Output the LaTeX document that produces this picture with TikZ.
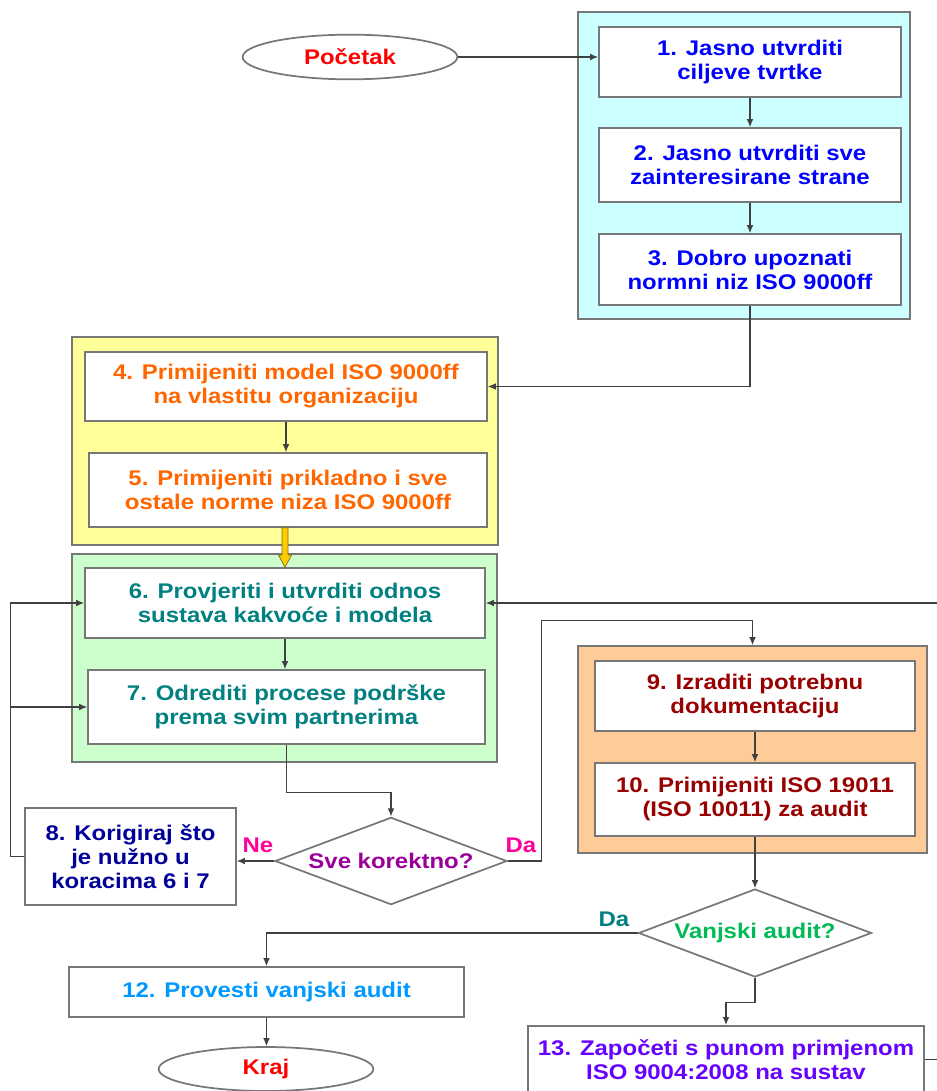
\documentclass[tikz,border=0pt]{standalone}
\usepackage{fontspec}
\setmainfont{Liberation Sans}[FakeStretch=1.13]
\usepackage{tikz}
\usetikzlibrary{arrows.meta,positioning,shapes.geometric,calc}
\definecolor{framegray}{HTML}{777777}
\definecolor{linegray}{HTML}{404040}
\definecolor{cyanfill}{HTML}{CCFFFF}
\definecolor{yellowfill}{HTML}{FFFF99}
\definecolor{greenfill}{HTML}{CCFFCC}
\definecolor{orangefill}{HTML}{FFCC99}
\definecolor{arrowyellow}{HTML}{FFCC00}
\definecolor{arrowedge}{HTML}{7A6A20}
\definecolor{startred}{HTML}{FF0000}
\definecolor{stepblue}{HTML}{0000FF}
\definecolor{steporange}{HTML}{FF6600}
\definecolor{stepteal}{HTML}{008080}
\definecolor{stepnavy}{HTML}{000099}
\definecolor{stepbrown}{HTML}{990000}
\definecolor{steplight}{HTML}{0099FF}
\definecolor{stepviolet}{HTML}{6600FF}
\definecolor{askpurple}{HTML}{990099}
\definecolor{askgreen}{HTML}{00BB55}
\definecolor{answerpink}{HTML}{FF0099}
\newcommand{\stepfont}{\fontsize{15.9}{18}\selectfont\bfseries}
\tikzset{
  stepbox/.style={draw=framegray,fill=white,line width=1.3pt,align=center,inner sep=0pt,font=\stepfont},
  groupbox/.style={draw=framegray,line width=1.3pt,inner sep=0pt},
  decision/.style={diamond,aspect=2.67,draw=framegray,fill=white,line width=1.3pt,inner sep=0pt,minimum width=174pt,minimum height=65.5pt,font=\stepfont},
  terminal/.style={ellipse,draw=framegray,fill=white,line width=1.3pt,minimum width=161pt,minimum height=33.5pt,font=\stepfont},
  flow/.style={draw=linegray,line width=0.8pt,-{Latex[length=6pt,width=5pt]}},
  answer/.style={font=\stepfont},
}

\begin{document}
\begin{tikzpicture}[x=0.75pt,y=-0.75pt]
  \useasboundingbox (0,0) rectangle (936,1091);

  \node[groupbox,fill=cyanfill,minimum width=249pt,minimum height=230.25pt] (cyan) at (744,165.5) {};
  \node[groupbox,fill=yellowfill,minimum width=319.5pt,minimum height=156pt] (yellow) at (285,441) {};
  \node[groupbox,fill=greenfill,minimum width=318.75pt,minimum height=156pt] (green) at (284.5,658) {};
  \node[groupbox,fill=orangefill,minimum width=261.75pt,minimum height=155.25pt] (orange) at (752.5,749.5) {};

  \node[terminal,text=startred] (start) at (350,57) {Početak};
  \node[stepbox,text=stepblue,minimum width=226.5pt,minimum height=52.5pt] (b1) at (750,62) {1. Jasno utvrditi\\ciljeve tvrtke};
  \node[stepbox,text=stepblue,minimum width=226.5pt,minimum height=55.5pt] (b2) at (750,165) {2. Jasno utvrditi sve\\zainteresirane strane};
  \node[stepbox,text=stepblue,minimum width=226.5pt,minimum height=53.25pt] (b3) at (750,269.5) {3. Dobro upoznati\\normni niz ISO 9000ff};

  \node[stepbox,text=steporange,minimum width=301.5pt,minimum height=51.75pt] (b4) at (286,386.5) {4. Primijeniti model ISO 9000ff\\na vlastitu organizaciju};
  \node[stepbox,text=steporange,minimum width=298.5pt,minimum height=55.5pt] (b5) at (288,490) {5. Primijeniti prikladno i sve\\ostale norme niza ISO 9000ff};

  \node[stepbox,text=stepteal,minimum width=300pt,minimum height=52.5pt] (b6) at (285,603) {6. Provjeriti i utvrditi odnos\\sustava kakvoće i modela};
  \node[stepbox,text=stepteal,minimum width=297.75pt,minimum height=55.5pt] (b7) at (286.5,707) {7. Odrediti procese podrške\\prema svim partnerima};

  \node[stepbox,text=stepnavy,minimum width=158.25pt,minimum height=72.75pt] (b8) at (130.5,856.5) {8. Korigiraj što\\je nužno u\\koracima 6 i 7};
  \node[decision,text=askpurple] (d1) at (391,861) {Sve korektno?};

  \node[stepbox,text=stepbrown,minimum width=240pt,minimum height=52.5pt] (b9) at (755,696) {9. Izraditi potrebnu\\dokumentaciju};
  \node[stepbox,text=stepbrown,minimum width=240pt,minimum height=54.75pt] (b10) at (755,799.5) {10. Primijeniti ISO 19011\\(ISO 10011) za audit};

  \node[decision,text=askgreen,minimum width=174.75pt,minimum height=66pt] (d2) at (755,933) {Vanjski audit?};
  \node[stepbox,text=steplight,minimum width=296.25pt,minimum height=37.5pt] (b12) at (266.5,992) {12. Provesti vanjski audit};
  \node[terminal,text=startred,minimum height=33pt] (kraj) at (266,1069) {Kraj};
  \node[stepbox,text=stepviolet,minimum width=297pt,inner ysep=10pt,anchor=north] (b13) at (726,1025) {13. Započeti s punom primjenom\\ISO 9004:2008 na sustav};

  \node[answer,text=answerpink] (ne) at (258,845) {Ne};
  \node[answer,text=answerpink] (da1) at (521,845) {Da};
  \node[answer,text=stepteal] (da2) at (614,919) {Da};

  \draw[flow] (start.east) -- (start.east -| b1.west);
  \draw[flow] (b1.south) -- (b2.north);
  \draw[flow] (b2.south) -- (b3.north);
  \draw[flow] (b3.south) |- (b4.east);
  \draw[flow] (b4.south) -- (b4.south |- b5.north);
  \filldraw[draw=arrowedge,fill=arrowyellow,line width=0.5pt] ($(b5.south -| b6.north)+(-3,0)$) -- ($(b6.north)+(-3,-12)$) -- ($(b6.north)+(-6.5,-12)$) -- (b6.north) -- ($(b6.north)+(6.5,-12)$) -- ($(b6.north)+(3,-12)$) -- ($(b5.south -| b6.north)+(3,0)$) -- cycle;
  \draw[flow] (b6.south) -- (b6.south |- b7.north);
  \draw[flow] (b7.south) -- ++(0,48) -| (d1.north);
  \draw[flow] (d1.west) -- (d1.west -| b8.east);
  \coordinate (loopL) at ($(b8.west)+(-14,0)$);
  \draw[flow] (b8.west) -- (loopL) |- (b6.west);
  \draw[flow] (loopL) |- (b7.west);
  \draw[flow] (d1.east) -- ++(34,0) |- ($(orange.north)+(0,-25)$) -- (orange.north);
  \draw[flow] (b9.south) -- (b10.north);
  \draw[flow] (b10.south) -- (d2.north);
  \draw[flow] (d2.west) -| (b12.north);
  \draw[flow] (b12.south) -- (b12.south |- kraj.north);
  \draw[flow] (d2.south) -- ++(0,25) -| (b13.north);
  \draw[flow] (b13.east) -- ++(40,0) |- (b6.east);
\end{tikzpicture}
\end{document}
